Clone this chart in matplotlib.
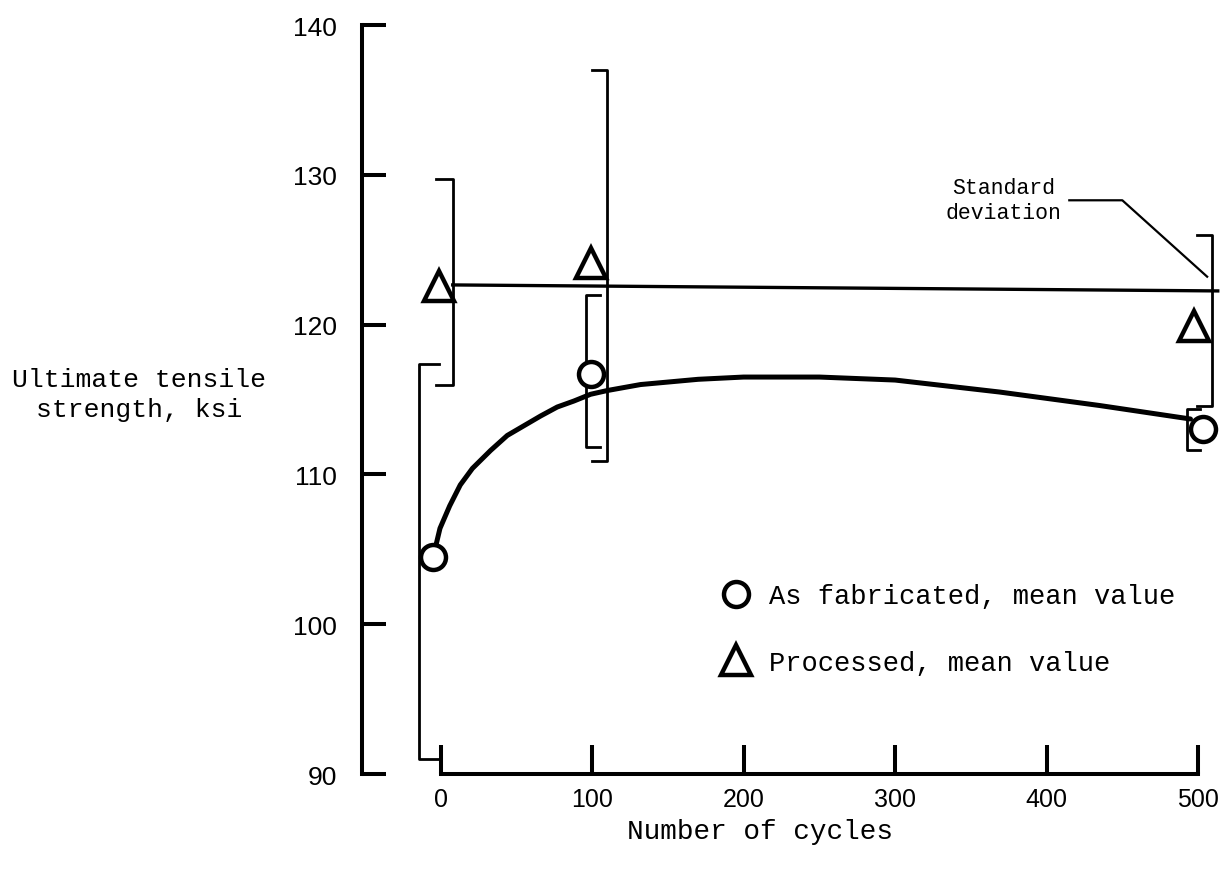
import matplotlib
matplotlib.use("Agg")
import matplotlib.pyplot as plt

plt.rcParams["font.family"] = ["Liberation Mono", "DejaVu Sans Mono"]

# x / y axis ticks
x_ticks = [0, 100, 200, 300, 400, 500]
x_tick_labels = ["0", "100", "200", "300", "400", "500"]
y_ticks = [90, 100, 110, 120, 130, 140]
y_tick_labels = ["90", "100", "110", "120", "130", "140"]

# as fabricated, mean value (markers drawn a little off the nominal cycle count)
fab_x = [-5, 99, 503]
fab_mean = [104.5, 116.7, 113.0]
# standard deviation brackets for as fabricated
fab_bar_x = [-14, 96, 493]
fab_hi = [117.4, 122.0, 114.4]
fab_lo = [91.0, 111.8, 111.6]
fab_cap = [13, 9, 8]

# processed, mean value
proc_x = [-1, 99, 497]
proc_mean = [122.6, 124.1, 119.9]
proc_bar_x = [8, 110, 509]
proc_hi = [129.7, 137.0, 126.0]
proc_lo = [116.0, 110.9, 114.6]
proc_cap = [-11, -10, -10]

# hand drawn curve through the as fabricated points
curve_x = [-3, -0.4, 6, 13, 21, 33, 44, 55, 66, 77, 88, 99, 110, 132,
           170, 200, 250, 300, 369, 435, 495]
curve_y = [105.3, 106.4, 107.9, 109.3, 110.4, 111.6, 112.6, 113.25, 113.9, 114.5,
           114.9, 115.35, 115.6, 116.0, 116.35, 116.5, 116.5, 116.3, 115.5, 114.6, 113.7]

# straight line through the processed points
proc_line_x = [8, 513]
proc_line_y = [122.65, 122.25]

# leader for the "Standard deviation" note
leader_x = [415, 450, 506]
leader_y = [128.3, 128.3, 123.2]

fig = plt.figure(figsize=(12.32, 8.78), dpi=100)
ax = fig.add_axes([340 / 1232, 1 - 790 / 878, 892 / 1232, 780 / 878])
ax.set_xlim(-66.4, 522.4)
ax.set_ylim(89.0, 141.07)

for s in ["top", "right"]:
    ax.spines[s].set_visible(False)
ax.spines["left"].set_position(("data", -52))
ax.spines["left"].set_bounds(90, 140)
ax.spines["bottom"].set_position(("data", 90))
ax.spines["bottom"].set_bounds(0, 500)
for s in ["left", "bottom"]:
    ax.spines[s].set_linewidth(2.9)
    ax.spines[s].set_capstyle("projecting")

ax.set_yticks(y_ticks)
ax.set_yticklabels(y_tick_labels, fontfamily=["Liberation Sans", "DejaVu Sans"], fontsize=19)
ax.set_xticks(x_ticks)
ax.set_xticklabels(x_tick_labels, fontfamily=["Liberation Sans Narrow", "Liberation Sans"],
                   fontsize=18)
ax.tick_params(axis="y", direction="in", length=17, width=2.9, pad=18)
ax.tick_params(axis="x", direction="in", length=21, width=2.9, pad=9)

# brackets
for bx, hi, lo, cap in zip(fab_bar_x, fab_hi, fab_lo, fab_cap):
    ax.plot([bx + cap, bx, bx, bx + cap], [hi, hi, lo, lo], color="black", lw=2, zorder=2)
for bx, hi, lo, cap in zip(proc_bar_x, proc_hi, proc_lo, proc_cap):
    ax.plot([bx + cap, bx, bx, bx + cap], [hi, hi, lo, lo], color="black", lw=2, zorder=2)

ax.plot(curve_x, curve_y, color="black", lw=3.6, zorder=3, solid_capstyle="round",
        solid_joinstyle="round")
ax.plot(proc_line_x, proc_line_y, color="black", lw=2.4, zorder=3)

ax.plot(fab_x, fab_mean, "o", ms=18, mfc="white", mec="black", mew=3.2, zorder=5,
        label="As fabricated, mean value")
ax.plot(proc_x, proc_mean, "^", ms=21, mfc="white", mec="black", mew=3.2, zorder=5,
        label="Processed, mean value")

ax.plot(leader_x, leader_y, color="black", lw=1.6, zorder=2)
ax.text(leader_x[0] - 5, leader_y[0], "Standard\ndeviation", ha="right", va="center",
        multialignment="center", fontsize=15.5, linespacing=1.25)

ax.legend(loc="upper left", bbox_to_anchor=(722 / 1232, 1 - 584 / 878),
          bbox_transform=fig.transFigure, frameon=False, fontsize=19.5, numpoints=1,
          handlelength=1.0, handletextpad=0.75, labelspacing=1.5, borderpad=0,
          borderaxespad=0)

fig.text(139 / 1232, 1 - 395 / 878, "Ultimate tensile\nstrength, ksi", ha="center",
         va="center", multialignment="center", fontsize=19, linespacing=1.3)
fig.text(760 / 1232, 1 - 832 / 878, "Number of cycles", ha="center", va="center", fontsize=20)

fig.savefig("out.png", dpi=100)
